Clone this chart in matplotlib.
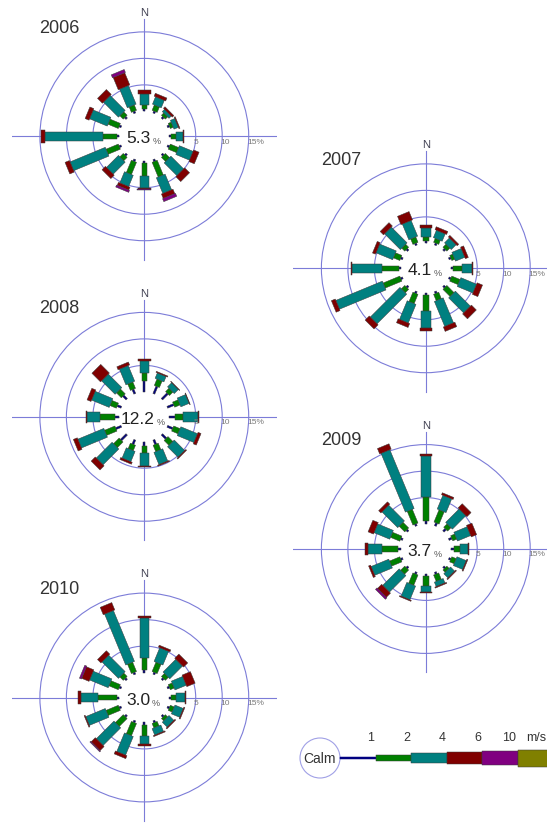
import numpy as np
import matplotlib.pyplot as plt
from matplotlib.patches import Circle, Polygon, Rectangle

plt.rcParams['font.family'] = ['Liberation Sans', 'DejaVu Sans']

W_PX, H_PX = 547, 829
PX_PER_PCT = 5.3      # pixels per percent on every rose
CALM_R = 4.7          # radius of the calm disc, in percent units
HALF = 25.0           # half extent of each rose axes, in percent units

DIRECTIONS = ['N', 'NNE', 'NE', 'ENE', 'E', 'ESE', 'SE', 'SSE',
              'S', 'SSW', 'SW', 'WSW', 'W', 'WNW', 'NW', 'NNW']
SPEED_LABELS = ['1', '2', '4', '6', '10', 'm/s']
CLASS_COLORS = ['#000080', '#008000', '#008080', '#800000', '#800080', '#808000']
CLASS_WIDTHS = [2, 5.5, 9.5, 12.5, 14, 17]   # bar thickness in px per class
RINGS = [5, 10, 15]
RING_COLOR = '#7c7cd8'

# frequency (%) per direction, columns = calm-1, 1-2, 2-4, 4-6, 6-10 m/s
freq_2006 = [
    [0.4, 0.9, 1.9, 0.9, 0.0],
    [0.4, 1.1, 1.5, 0.6, 0.0],
    [0.4, 0.6, 0.6, 0.4, 0.0],
    [0.4, 0.6, 0.9, 0.2, 0.0],
    [0.4, 0.9, 1.3, 0.2, 0.0],
    [0.4, 1.7, 2.8, 1.1, 0.0],
    [0.4, 1.1, 3.4, 1.3, 0.0],
    [0.4, 3.0, 3.2, 0.9, 0.6],
    [0.4, 2.3, 2.3, 0.3, 0.15],
    [0.4, 2.5, 2.3, 0.6, 0.4],
    [0.4, 0.9, 3.2, 0.9, 0.0],
    [0.4, 2.5, 7.2, 0.9, 0.0],
    [0.4, 2.6, 11.0, 0.8, 0.0],
    [0.4, 2.1, 3.6, 0.8, 0.0],
    [0.4, 0.9, 4.0, 1.3, 0.0],
    [0.4, 1.1, 3.8, 2.5, 0.6],
]
freq_2007 = [
    [0.4, 0.8, 1.7, 0.6, 0.0],
    [0.4, 0.8, 1.5, 0.6, 0.0],
    [0.4, 0.8, 1.3, 0.4, 0.0],
    [0.4, 0.6, 1.9, 0.6, 0.0],
    [0.4, 1.7, 1.9, 0.2, 0.0],
    [0.4, 1.7, 3.2, 1.1, 0.0],
    [0.4, 1.9, 4.0, 1.3, 0.0],
    [0.4, 1.3, 5.1, 0.9, 0.0],
    [0.4, 3.0, 3.2, 0.6, 0.0],
    [0.4, 1.9, 3.8, 0.8, 0.0],
    [0.4, 0.9, 7.9, 1.1, 0.0],
    [0.4, 3.4, 9.5, 0.8, 0.0],
    [0.4, 3.2, 5.7, 0.2, 0.0],
    [0.4, 1.3, 3.4, 0.6, 0.0],
    [0.4, 0.8, 4.2, 0.9, 0.0],
    [0.4, 1.1, 3.2, 1.7, 0.0],
]
freq_2008 = [
    [2.1, 1.5, 2.3, 0.4, 0.0],
    [1.5, 1.3, 1.1, 0.2, 0.0],
    [1.5, 0.9, 1.1, 0.1, 0.0],
    [1.3, 1.1, 1.7, 0.1, 0.0],
    [1.1, 1.5, 2.8, 0.2, 0.0],
    [1.1, 1.3, 3.4, 0.6, 0.0],
    [1.1, 1.3, 2.8, 0.2, 0.0],
    [0.9, 1.3, 2.5, 0.2, 0.0],
    [0.9, 1.3, 2.3, 0.2, 0.0],
    [0.9, 1.1, 2.1, 0.4, 0.0],
    [1.5, 1.5, 4.2, 1.1, 0.0],
    [1.1, 2.1, 5.3, 0.8, 0.0],
    [0.8, 2.8, 2.5, 0.2, 0.0],
    [0.8, 1.3, 3.6, 0.8, 0.0],
    [0.9, 1.3, 3.6, 2.3, 0.0],
    [0.9, 1.3, 3.2, 0.6, 0.0],
]
freq_2009 = [
    [0.6, 4.6, 7.6, 0.4, 0.0],
    [0.6, 2.5, 2.8, 0.4, 0.0],
    [0.6, 0.9, 3.6, 1.1, 0.0],
    [0.6, 0.8, 2.7, 1.1, 0.0],
    [0.6, 1.1, 1.5, 0.2, 0.0],
    [0.4, 0.9, 1.9, 0.2, 0.0],
    [0.4, 0.6, 1.1, 0.2, 0.0],
    [0.4, 1.3, 0.9, 0.2, 0.0],
    [0.4, 1.9, 1.1, 0.2, 0.0],
    [0.4, 2.1, 2.8, 0.2, 0.0],
    [0.4, 1.1, 4.4, 1.1, 0.4],
    [0.4, 2.1, 3.6, 0.4, 0.0],
    [0.6, 3.0, 2.7, 0.4, 0.0],
    [0.4, 1.9, 3.2, 1.1, 0.0],
    [0.4, 1.5, 4.2, 0.6, 0.0],
    [0.4, 2.8, 12.0, 1.1, 0.0],
]
freq_2010 = [
    [0.4, 2.3, 7.6, 0.4, 0.0],
    [0.4, 1.9, 2.8, 0.4, 0.0],
    [0.4, 0.8, 3.4, 1.1, 0.0],
    [0.4, 0.8, 2.3, 1.7, 0.0],
    [0.4, 0.9, 1.7, 0.2, 0.0],
    [0.4, 0.8, 1.7, 0.2, 0.0],
    [0.4, 0.6, 1.3, 0.2, 0.0],
    [0.4, 0.9, 1.3, 0.2, 0.0],
    [0.4, 2.1, 1.5, 0.4, 0.0],
    [0.4, 2.5, 3.8, 0.6, 0.0],
    [0.4, 2.1, 4.7, 1.1, 0.2],
    [0.4, 2.5, 4.0, 0.2, 0.0],
    [0.4, 3.6, 3.2, 0.6, 0.0],
    [0.4, 1.9, 3.8, 1.5, 0.4],
    [0.4, 0.9, 4.4, 0.9, 0.0],
    [0.4, 1.9, 10.4, 1.5, 0.0],
]

years = ['2006', '2007', '2008', '2009', '2010']
calm_pct = [5.3, 4.1, 12.2, 3.7, 3.0]
rose_freqs = [freq_2006, freq_2007, freq_2008, freq_2009, freq_2010]
# rose centres on the page, px from top-left
rose_centres = [(144.3, 137.3), (425.8, 269.3), (144.3, 417.8),
                (425.8, 550.0), (144.3, 698.5)]


def rose_axes(fig, cx, cy):
    size = 2 * HALF * PX_PER_PCT
    ax = fig.add_axes([(cx - size / 2) / W_PX, (H_PX - cy - size / 2) / H_PX,
                       size / W_PX, size / H_PX])
    ax.set_xlim(-HALF, HALF)
    ax.set_ylim(-HALF, HALF)
    ax.axis('off')
    return ax


def draw_rose(ax, year, freq, calm):
    # rings and cross hairs
    for p in RINGS:
        ax.add_patch(Circle((0, 0), CALM_R + p, fill=False, ec=RING_COLOR,
                            lw=0.8, zorder=1))
        label = f'{p}%' if p == RINGS[-1] else str(p)
        ax.text(CALM_R + p - 0.3, -0.9, label, ha='left', va='center',
                fontsize=6, color='#7a7a7a', zorder=4)
    ax.plot([-HALF, HALF], [0, 0], color=RING_COLOR, lw=0.8, zorder=1)
    ax.plot([0, 0], [-23.3, 22.1], color=RING_COLOR, lw=0.8, zorder=1)
    ax.add_patch(Circle((0, 0), CALM_R, fc='white', ec='none', zorder=2))

    # stacked bars, one per direction
    for i, row in enumerate(freq):
        th = np.deg2rad(22.5 * i)
        u = np.array([np.sin(th), np.cos(th)])
        n = np.array([np.cos(th), -np.sin(th)])
        r0 = CALM_R
        for k, val in enumerate(row):
            if val <= 0:
                continue
            r1 = r0 + val
            hw = CLASS_WIDTHS[k] / PX_PER_PCT / 2
            pts = [r0 * u + hw * n, r1 * u + hw * n,
                   r1 * u - hw * n, r0 * u - hw * n]
            ax.add_patch(Polygon(pts, closed=True, fc=CLASS_COLORS[k],
                                 ec='#3a3a3a', lw=0.35, zorder=3 + 0.01 * k))
            r0 = r1

    ax.text(-19.8, 20.6, year, ha='left', va='center', fontsize=13,
            color='#333333')
    ax.text(0, 23.4, 'N', ha='center', va='center', fontsize=8,
            color='#444455')
    t = ax.text(-1.2, -0.3, f'{calm:.1f}', ha='center', va='center',
                fontsize=12.5, color='#222222', zorder=5)
    ax.annotate('%', xy=(1, 0), xycoords=t, xytext=(1.5, 0),
                textcoords='offset points', ha='left', va='bottom',
                fontsize=6.5, color='#555555', zorder=5)


def draw_legend(fig):
    left, top, w, h = 280, 715, 267, 90
    ax = fig.add_axes([left / W_PX, (H_PX - top - h) / H_PX, w / W_PX, h / H_PX])
    ax.set_xlim(left, left + w)
    ax.set_ylim(top + h, top)
    ax.axis('off')
    cy = 759
    ax.add_patch(Circle((320, cy), 20, fill=False, ec='#a0a0e6', lw=0.8))
    ax.text(320, cy, 'Calm', ha='center', va='center', fontsize=10,
            color='#333333')
    seg = 35.5
    x0 = 340.5
    for k, (col, wd, lab) in enumerate(zip(CLASS_COLORS, CLASS_WIDTHS,
                                           SPEED_LABELS)):
        thick = 1.6 if k == 0 else wd
        ax.add_patch(Rectangle((x0, cy - thick / 2), seg, thick, fc=col,
                               ec='#3a3a3a' if k else col, lw=0.35))
        # the last label sits against the page edge
        ax.text(min(x0 + seg - 1.5, left + w - 1), 738, lab, ha='right',
                va='center', fontsize=9, color='#333333')
        x0 += seg


fig = plt.figure(figsize=(W_PX / 100, H_PX / 100), dpi=100)
for year, freq, calm, (cx, cy) in zip(years, rose_freqs, calm_pct, rose_centres):
    draw_rose(rose_axes(fig, cx, cy), year, freq, calm)
draw_legend(fig)

fig.savefig('out.png', dpi=100)
